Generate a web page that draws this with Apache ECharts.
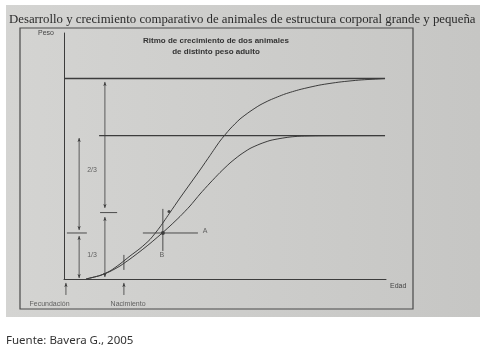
<!DOCTYPE html>
<html><head><meta charset="utf-8">
<script src="https://cdn.jsdelivr.net/npm/echarts@6/dist/echarts.min.js"></script>
<style>html,body{margin:0;padding:0;background:#fff;}#c{width:485px;height:359px;}</style>
</head><body><div id="c"></div>
<script>
// Growth curves (x: age units, y: weight units)
const bigCurve = [[6.83,0],[11.18,1.42],[14.29,3.25],[17.39,6.10],[20.50,9.35],[23.60,12.40],[26.71,16.06],[29.81,21.14],[32.92,27.03],[36.02,32.93],[39.13,38.62],[42.24,44.31],[45.34,50.20],[48.45,56.10],[51.55,60.98],[54.66,65.04],[57.76,68.09],[60.87,70.73],[63.98,72.76],[68.63,75.20],[73.29,77.03],[79.50,78.86],[85.71,80.08],[91.93,80.89],[98.14,81.38],[99.69,81.5]];
const smallCurve = [[6.83,0],[11.18,1.42],[14.29,3.05],[17.39,5.28],[20.50,8.13],[23.60,11.18],[26.71,14.43],[29.81,17.89],[32.92,21.54],[36.02,25.41],[39.13,29.67],[42.24,34.55],[45.34,39.02],[48.45,43.29],[51.55,47.15],[54.66,50.41],[57.76,53.05],[60.87,54.88],[63.98,56.30],[67.08,57.11],[70.19,57.72],[73.29,58.05],[79.50,58.21],[99.69,58.3]];
// Adult weight levels
const bigAdult = [[0,81.5],[99.7,81.5]];
const smallAdult = [[10.9,58.3],[99.7,58.3]];
// Dimension lines (pairs: from, to)
const dimSegments = [
  [[4.7,57.3],[4.7,19.9]], [[4.7,17.5],[4.7,0.4]],
  [[12.7,80.1],[12.7,28.9]], [[12.7,25.2],[12.7,0.8]]
];
const plainSegments = [
  [[0.9,18.7],[7.1,18.7]], [[11.2,27.0],[16.5,27.0]],
  [[24.5,18.7],[41.6,18.7]], [[30.7,28.5],[30.7,11.4]],
  [[18.6,9.8],[18.6,3.7]]
];
const upArrows = [[[0.6,-6.5],[0.6,-1.6]], [[18.6,-6.5],[18.6,-1.6]]];
const dots = [[30.7,18.7,4],[32.6,27.4,3]];
const labels = [
  {name:'2/3', value:[8.7,44.3]}, {name:'1/3', value:[8.7,9.8]},
  {name:'A', value:[43.8,19.5]}, {name:'B', value:[30.4,9.8]},
  {name:'Fecundación', value:[-4.5,-10.2]}, {name:'Nacimiento', value:[19.9,-10.2]}
];
const mainTitle = 'Desarrollo y crecimiento comparativo de animales de estructura corporal grande y pequeña';
const innerTitle = 'Ritmo de crecimiento de dos animales\nde distinto peso adulto';
const source = 'Fuente: Bavera G., 2005';

const ink = '#3c3c3c';
function withNulls(segs, arrowEnds) {
  const out = [];
  segs.forEach((s, i) => {
    if (i) out.push(null);
    if (arrowEnds === 'both') {
      out.push({value:s[0], symbol:'arrow', symbolRotate:0});
      out.push({value:s[1], symbol:'arrow', symbolRotate:180});
    } else if (arrowEnds === 'end') {
      out.push({value:s[0], symbol:'none'});
      out.push({value:s[1], symbol:'arrow', symbolRotate:0});
    } else {
      out.push({value:s[0], symbol:'none'});
      out.push({value:s[1], symbol:'none'});
    }
  });
  return out;
}
function lineSeries(data, w, extra) {
  return Object.assign({type:'line', data, showSymbol:false, symbol:'none', clip:false, silent:true,
    lineStyle:{color:ink, width:w}, connectNulls:false, animation:false}, extra||{});
}
const chart = echarts.init(document.getElementById('c'));
chart.setOption({
  animation:false,
  grid:{left:64, right:99, top:33, bottom:80},
  xAxis:{type:'value', min:0, max:100, axisLine:{show:true, lineStyle:{color:ink, width:1}},
    axisTick:{show:false}, axisLabel:{show:false}, splitLine:{show:false},
    name:'Edad', nameLocation:'end', nameGap:4,
    nameTextStyle:{fontFamily:'Liberation Sans', fontSize:7, color:'#444', verticalAlign:'top', padding:[4,0,0,0]}},
  yAxis:{type:'value', min:0, max:100, axisLine:{show:true, lineStyle:{color:ink, width:1}},
    axisTick:{show:false}, axisLabel:{show:false}, splitLine:{show:false},
    name:'Peso', nameLocation:'end', nameGap:0,
    nameTextStyle:{fontFamily:'Liberation Sans', fontSize:7, color:'#444', align:'right', verticalAlign:'middle', padding:[0,10,0,0]}},
  graphic:[
    {type:'rect', z:-10, silent:true, shape:{x:6,y:5,width:474,height:312},
      style:{fill:new echarts.graphic.LinearGradient(0,0,1,0,[{offset:0,color:'#d4d4d2'},{offset:1,color:'#c6c6c4'}])}},
    {type:'rect', z:-9, silent:true, shape:{x:20,y:28,width:393,height:281},
      style:{fill:null, stroke:'#4a4a4a', lineWidth:1.2}},
    {type:'text', z:5, left:9, top:13, style:{text:mainTitle, font:'12.8px "Liberation Serif"', fill:'#2b2b2b'}},
    {type:'text', z:5, x:216, y:35, style:{text:innerTitle, font:'bold 8px "Liberation Sans"', fill:'#333', align:'center', lineHeight:11}},
    {type:'text', z:5, left:6, top:335, style:{text:source, font:'11.5px "Noto Sans"', fill:'#333'}}
  ],
  series:[
    lineSeries(bigCurve, 1, {smooth:0.2}),
    lineSeries(smallCurve, 1, {smooth:0.2}),
    lineSeries(bigAdult, 1.3),
    lineSeries(smallAdult, 1.3),
    lineSeries(withNulls(dimSegments,'both'), 0.8, {showSymbol:true, symbolSize:[2.5,4], itemStyle:{color:ink}}),
    lineSeries(withNulls(plainSegments,'none'), 0.9),
    lineSeries(withNulls(upArrows,'end'), 0.8, {showSymbol:true, symbolSize:[2.5,4], itemStyle:{color:ink}}),
    {type:'scatter', silent:true, clip:false, data:dots.map(d=>({value:[d[0],d[1]], symbolSize:d[2]})), itemStyle:{color:'#222'}},
    {type:'scatter', silent:true, clip:false, symbolSize:0, data:labels,
      label:{show:true, position:'inside', formatter:p=>p.name, fontFamily:'Liberation Sans', fontSize:7, color:'#444'}}
  ]
});
</script></body></html>
